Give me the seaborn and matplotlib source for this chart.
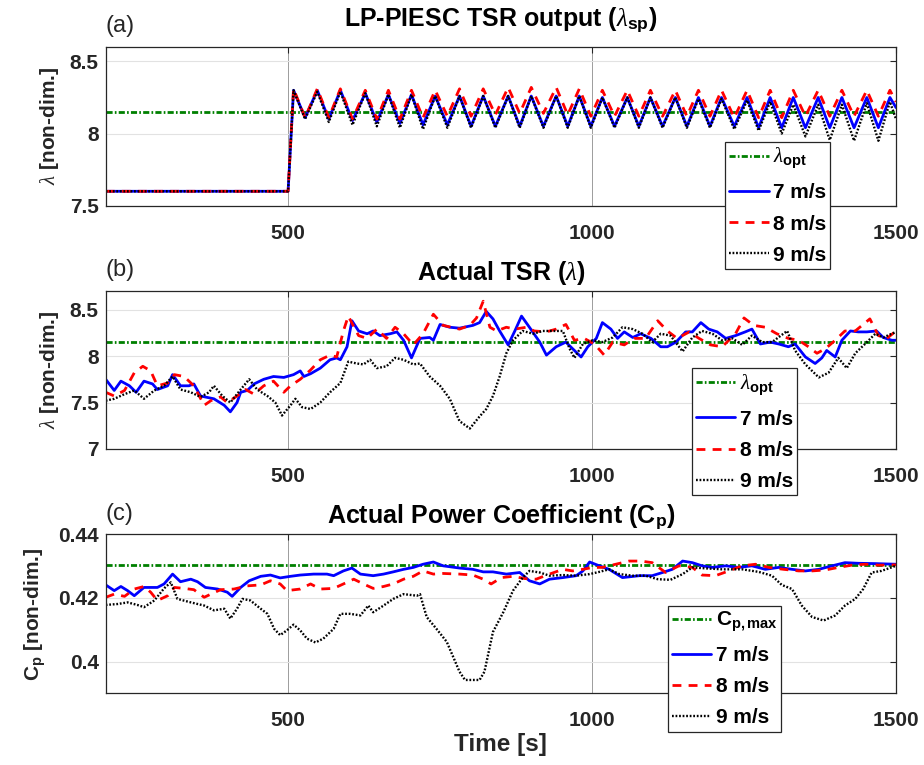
import matplotlib
matplotlib.use("Agg")
import matplotlib.pyplot as plt
import seaborn as sns
from matplotlib.ticker import FuncFormatter

# ---------------- data ----------------
LAMBDA_OPT = 8.15
CP_MAX = 0.4305

# (a) LP-PIESC TSR output: shared time base (start, step, then peaks/troughs)
A_T = [200, 500,
       509, 528, 548, 567, 586, 606, 627, 646, 665, 684,
       703, 722, 742, 762, 782, 801, 821, 841, 862, 881,
       900, 920, 941, 960, 979, 998, 1017, 1037, 1058, 1077,
       1096, 1116, 1137, 1156, 1175, 1194, 1213, 1234, 1255, 1274,
       1293, 1312, 1331, 1351, 1372, 1391, 1411, 1431, 1452, 1471,
       1490, 1500]
A_7 = [7.60, 7.60,
       8.30, 8.11, 8.30, 8.10, 8.30, 8.09, 8.28, 8.08, 8.27, 8.07,
       8.27, 8.06, 8.26, 8.06, 8.26, 8.05, 8.26, 8.05, 8.26, 8.05,
       8.26, 8.05, 8.26, 8.05, 8.26, 8.05, 8.25, 8.05, 8.25, 8.05,
       8.25, 8.05, 8.25, 8.05, 8.25, 8.05, 8.25, 8.05, 8.25, 8.04,
       8.25, 8.04, 8.25, 8.04, 8.25, 8.04, 8.25, 8.04, 8.25, 8.04,
       8.25, 8.18]
A_8 = [7.60, 7.60,
       8.31, 8.11, 8.31, 8.11, 8.31, 8.10, 8.30, 8.10, 8.30, 8.10,
       8.30, 8.11, 8.30, 8.12, 8.31, 8.12, 8.31, 8.13, 8.32, 8.14,
       8.32, 8.14, 8.32, 8.13, 8.31, 8.12, 8.30, 8.12, 8.30, 8.12,
       8.30, 8.12, 8.30, 8.12, 8.30, 8.12, 8.30, 8.11, 8.30, 8.11,
       8.30, 8.11, 8.30, 8.12, 8.30, 8.12, 8.30, 8.12, 8.30, 8.12,
       8.30, 8.22]
A_9 = [7.60, 7.60,
       8.30, 8.10, 8.29, 8.08, 8.29, 8.06, 8.28, 8.05, 8.27, 8.04,
       8.27, 8.03, 8.26, 8.04, 8.26, 8.04, 8.26, 8.04, 8.26, 8.04,
       8.26, 8.04, 8.26, 8.04, 8.26, 8.04, 8.25, 8.04, 8.25, 8.04,
       8.25, 8.04, 8.25, 8.04, 8.24, 8.04, 8.24, 8.03, 8.23, 8.02,
       8.22, 8.00, 8.20, 7.98, 8.20, 7.955, 8.20, 7.95, 8.21, 7.95,
       8.22, 8.10]

# (b) Actual TSR
B7_T = [200, 214, 225, 239, 250, 263, 277, 285, 302, 310,
        323, 337, 345, 356, 378, 395, 405, 416, 422, 433,
        444, 460, 476, 493, 509, 520, 526, 537, 553, 569,
        580, 586, 597, 605, 616, 630, 640, 651, 668, 679,
        690, 703, 717, 733, 739, 750, 766, 782, 804, 815,
        826, 837, 848, 862, 873, 884, 897, 914, 925, 941,
        957, 971, 982, 993, 1007, 1017, 1031, 1042, 1053, 1067,
        1080, 1097, 1113, 1124, 1138, 1154, 1165, 1179, 1192, 1206,
        1220, 1236, 1252, 1263, 1277, 1293, 1307, 1323, 1334, 1351,
        1367, 1378, 1386, 1400, 1411, 1425, 1438, 1452, 1468, 1479,
        1493, 1500]
B7_V = [7.75, 7.63, 7.73, 7.68, 7.61, 7.73, 7.70, 7.64, 7.68, 7.80,
        7.68, 7.68, 7.70, 7.57, 7.54, 7.47, 7.40, 7.50, 7.61, 7.63,
        7.70, 7.75, 7.78, 7.77, 7.80, 7.84, 7.78, 7.81, 7.87, 7.96,
        7.98, 7.96, 8.10, 8.38, 8.27, 8.24, 8.27, 8.22, 8.24, 8.26,
        8.17, 7.98, 8.19, 8.20, 8.17, 8.34, 8.31, 8.30, 8.33, 8.36,
        8.48, 8.40, 8.27, 8.12, 8.27, 8.43, 8.31, 8.15, 8.01, 8.10,
        8.15, 8.06, 7.99, 8.10, 8.19, 8.36, 8.29, 8.19, 8.26, 8.20,
        8.24, 8.19, 8.10, 8.10, 8.15, 8.26, 8.26, 8.36, 8.29, 8.26,
        8.19, 8.22, 8.26, 8.29, 8.13, 8.15, 8.13, 8.10, 8.13, 7.99,
        7.92, 7.98, 8.06, 7.99, 8.17, 8.27, 8.26, 8.26, 8.27, 8.20,
        8.17, 8.17]
B8_T = [200, 214, 231, 247, 261, 274, 285, 302, 313, 329,
        345, 362, 373, 389, 400, 416, 430, 444, 460, 476,
        493, 504, 520, 537, 553, 569, 580, 591, 599, 616,
        630, 646, 662, 676, 690, 706, 722, 739, 755, 782,
        799, 810, 821, 832, 843, 859, 873, 892, 905, 925,
        941, 957, 971, 987, 1004, 1020, 1034, 1053, 1069, 1088,
        1108, 1124, 1140, 1160, 1176, 1195, 1214, 1236, 1250, 1266,
        1285, 1304, 1323, 1340, 1356, 1370, 1384, 1400, 1416, 1433,
        1457, 1471, 1485, 1500]
B8_V = [7.61, 7.57, 7.63, 7.82, 7.89, 7.84, 7.68, 7.71, 7.80, 7.78,
        7.68, 7.47, 7.52, 7.56, 7.50, 7.57, 7.64, 7.59, 7.68, 7.73,
        7.61, 7.68, 7.75, 7.85, 7.96, 8.01, 7.99, 8.27, 8.43, 8.22,
        8.19, 8.29, 8.19, 8.31, 8.24, 8.12, 8.24, 8.45, 8.33, 8.29,
        8.33, 8.41, 8.59, 8.31, 8.27, 8.31, 8.29, 8.31, 8.27, 8.26,
        8.29, 8.34, 8.17, 8.19, 8.13, 8.01, 8.15, 8.12, 8.19, 8.19,
        8.38, 8.27, 8.19, 8.26, 8.19, 8.12, 8.10, 8.24, 8.41, 8.33,
        8.31, 8.24, 8.19, 8.17, 8.10, 8.03, 8.08, 8.17, 8.27, 8.27,
        8.40, 8.22, 8.19, 8.27]
B9_T = [200, 214, 231, 247, 263, 280, 296, 310, 323, 340,
        356, 370, 378, 392, 405, 422, 436, 449, 466, 479,
        490, 504, 512, 523, 537, 553, 569, 586, 599, 613,
        624, 635, 646, 662, 676, 690, 706, 717, 733, 750,
        766, 782, 799, 815, 826, 837, 848, 859, 870, 886,
        903, 919, 935, 952, 963, 971, 985, 1001, 1017, 1034,
        1050, 1067, 1083, 1099, 1113, 1129, 1149, 1165, 1181, 1198,
        1214, 1231, 1247, 1263, 1280, 1296, 1321, 1334, 1351, 1373,
        1389, 1405, 1419, 1433, 1449, 1466, 1479, 1500]
B9_V = [7.52, 7.54, 7.59, 7.63, 7.54, 7.63, 7.68, 7.78, 7.64, 7.61,
        7.56, 7.61, 7.68, 7.57, 7.50, 7.64, 7.75, 7.64, 7.57, 7.50,
        7.36, 7.47, 7.54, 7.45, 7.43, 7.50, 7.61, 7.71, 7.94, 7.92,
        7.91, 7.96, 7.87, 7.89, 7.98, 7.96, 7.91, 7.92, 7.78, 7.68,
        7.54, 7.30, 7.22, 7.35, 7.43, 7.57, 7.78, 8.03, 8.17, 8.27,
        8.24, 8.27, 8.27, 8.27, 8.08, 7.98, 8.13, 8.17, 8.15, 8.20,
        8.31, 8.29, 8.24, 8.15, 8.24, 8.22, 8.05, 8.20, 8.27, 8.24,
        8.17, 8.19, 8.12, 8.22, 8.15, 8.15, 8.27, 8.06, 7.91, 7.77,
        7.82, 7.98, 7.87, 8.03, 8.13, 8.24, 8.20, 8.26]

# (c) Actual power coefficient
C7_T = [200, 214, 225, 236, 247, 263, 285, 296, 310, 323,
        340, 351, 364, 384, 400, 408, 422, 436, 455, 471,
        487, 504, 520, 542, 564, 575, 591, 605, 619, 640,
        657, 673, 690, 706, 722, 739, 755, 782, 804, 821,
        837, 859, 881, 897, 914, 930, 952, 974, 985, 996,
        1012, 1028, 1050, 1078, 1099, 1116, 1132, 1149, 1165, 1181,
        1198, 1220, 1241, 1263, 1285, 1307, 1329, 1351, 1373, 1395,
        1416, 1438, 1466, 1500]
C7_V = [0.4241, 0.4223, 0.4236, 0.4223, 0.4207, 0.4233, 0.4233, 0.4244, 0.4275, 0.4251,
        0.4259, 0.4251, 0.4233, 0.4228, 0.4218, 0.4205, 0.4233, 0.4254, 0.4268, 0.4272,
        0.4263, 0.4268, 0.4272, 0.4275, 0.4275, 0.4270, 0.4285, 0.4294, 0.4275, 0.4270,
        0.4275, 0.4282, 0.4290, 0.4296, 0.4306, 0.4313, 0.4301, 0.4294, 0.4290, 0.4282,
        0.4282, 0.4275, 0.4280, 0.4254, 0.4244, 0.4259, 0.4264, 0.4270, 0.4285, 0.4313,
        0.4301, 0.4290, 0.4264, 0.4270, 0.4270, 0.4280, 0.4290, 0.4316, 0.4311, 0.4301,
        0.4296, 0.4301, 0.4296, 0.4301, 0.4290, 0.4296, 0.4290, 0.4285, 0.4290, 0.4301,
        0.4311, 0.4309, 0.4308, 0.4306]
C8_T = [200, 214, 231, 247, 263, 274, 285, 302, 313, 329,
        345, 362, 373, 389, 411, 433, 455, 471, 487, 498,
        520, 537, 553, 575, 591, 608, 624, 640, 657, 673,
        690, 706, 722, 739, 755, 782, 804, 821, 834, 851,
        870, 889, 908, 930, 952, 968, 985, 1001, 1017, 1039,
        1061, 1080, 1099, 1121, 1143, 1165, 1181, 1203, 1225, 1247,
        1269, 1291, 1315, 1340, 1362, 1384, 1405, 1427, 1449, 1471,
        1500]
C8_V = [0.4202, 0.4212, 0.4205, 0.4228, 0.4236, 0.4218, 0.4192, 0.4207, 0.4233, 0.4230,
        0.4226, 0.4202, 0.4212, 0.4226, 0.4228, 0.4238, 0.4241, 0.4254, 0.4244, 0.4223,
        0.4228, 0.4244, 0.4228, 0.4230, 0.4244, 0.4259, 0.4244, 0.4230, 0.4236, 0.4244,
        0.4259, 0.4268, 0.4285, 0.4275, 0.4277, 0.4275, 0.4272, 0.4259, 0.4244, 0.4264,
        0.4268, 0.4261, 0.4259, 0.4275, 0.4290, 0.4285, 0.4290, 0.4296, 0.4296, 0.4306,
        0.4316, 0.4316, 0.4311, 0.4280, 0.4301, 0.4296, 0.4272, 0.4270, 0.4285, 0.4301,
        0.4306, 0.4296, 0.4290, 0.4285, 0.4285, 0.4288, 0.4296, 0.4303, 0.4306, 0.4303,
        0.4304]
C9_T = [200, 220, 236, 252, 263, 280, 296, 307, 318, 340,
        362, 378, 395, 405, 416, 425, 438, 455, 466, 477,
        487, 498, 509, 520, 531, 545, 558, 575, 586, 602,
        619, 632, 640, 657, 673, 690, 712, 717, 728, 744,
        761, 782, 791, 815, 823, 837, 854, 870, 886, 897,
        914, 930, 952, 974, 996, 1012, 1028, 1045, 1067, 1088,
        1108, 1129, 1149, 1165, 1187, 1214, 1247, 1274, 1296, 1312,
        1329, 1345, 1362, 1381, 1400, 1416, 1433, 1446, 1460, 1476,
        1500]
C9_V = [0.4178, 0.4181, 0.4186, 0.4178, 0.4171, 0.4192, 0.4230, 0.4249, 0.4197, 0.4186,
        0.4176, 0.4161, 0.4166, 0.4135, 0.4166, 0.4197, 0.4192, 0.4166, 0.4150, 0.4103,
        0.4083, 0.4098, 0.4116, 0.4098, 0.4072, 0.4060, 0.4072, 0.4103, 0.4150, 0.4150,
        0.4145, 0.4176, 0.4155, 0.4176, 0.4197, 0.4212, 0.4207, 0.4212, 0.4140, 0.4103,
        0.4062, 0.3968, 0.3942, 0.3942, 0.3968, 0.4093, 0.4155, 0.4223, 0.4264, 0.4285,
        0.4280, 0.4270, 0.4272, 0.4270, 0.4275, 0.4282, 0.4290, 0.4275, 0.4270, 0.4270,
        0.4259, 0.4257, 0.4275, 0.4296, 0.4293, 0.4290, 0.4290, 0.4282, 0.4270, 0.4241,
        0.4228, 0.4176, 0.4140, 0.4129, 0.4145, 0.4176, 0.4197, 0.4228, 0.4280, 0.4285,
        0.4301]

SERIES_LABELS = ["7 m/s", "8 m/s", "9 m/s"]
X_TICKS = [500, 1000, 1500]

# ---------------- style ----------------
sns.set_theme(style="white")
plt.rcParams.update({
    "font.family": ["Liberation Sans", "DejaVu Sans"],
    "font.weight": "bold",
    "mathtext.fontset": "custom",
    "mathtext.rm": "Liberation Sans",
    "mathtext.it": "Liberation Serif:italic:normal",
    "mathtext.bf": "Liberation Sans:bold",
    "axes.edgecolor": "#262626",
    "axes.linewidth": 0.9,
    "text.color": "#262626",
})

DARK = "#262626"
STYLES = {
    "opt": dict(color="#008000", linestyle=(0, (2.2, 0.8, 0.6, 0.8)), linewidth=2.0),
    "7 m/s": dict(color="#0000ff", linestyle="-", linewidth=2.0),
    "8 m/s": dict(color="#ff0000", linestyle=(0, (3.2, 2.6)), linewidth=2.0),
    "9 m/s": dict(color="black", linestyle=(0, (0.75, 0.75)), linewidth=1.7),
}

fig = plt.figure(figsize=(9.24, 7.65), dpi=100)
positions = [
    [0.1144, 0.7311, 0.8553, 0.2075],
    [0.1144, 0.4131, 0.8553, 0.2065],
    [0.1144, 0.0937, 0.8553, 0.2078],
]
axes = [fig.add_axes(p) for p in positions]

panels = [
    dict(ax=axes[0], series=[(A_T, A_7), (A_T, A_8), (A_T, A_9)], ref=LAMBDA_OPT,
         ref_label=r"$\lambda_{\mathbf{opt}}$",
         title=r"LP-PIESC TSR output ($\lambda_{\mathbf{sp}}$)", tag="(a)", tpad=15,
         ylabel=r"$\lambda$ [non-dim.]", ylx=-0.057, ylim=(7.5, 8.6), yticks=[7.5, 8, 8.5],
         leg=(0.7846, 0.8144)),
    dict(ax=axes[1], series=[(B7_T, B7_V), (B8_T, B8_V), (B9_T, B9_V)], ref=LAMBDA_OPT,
         ref_label=r"$\lambda_{\mathbf{opt}}$",
         title=r"Actual TSR ($\lambda$)", tag="(b)", tpad=8,
         ylabel=r"$\lambda$ [non-dim.]", ylx=-0.057, ylim=(7.0, 8.7), yticks=[7, 7.5, 8, 8.5],
         leg=(0.7486, 0.5186)),
    dict(ax=axes[2], series=[(C7_T, C7_V), (C8_T, C8_V), (C9_T, C9_V)], ref=CP_MAX,
         ref_label=r"C$_{\mathbf{p,max}}$",
         title=r"Actual Power Coefficient (C$_{\mathbf{p}}$)", tag="(c)", tpad=8,
         ylabel=r"C$_{\mathbf{p}}$ [non-dim.]", ylx=-0.073, ylim=(0.39, 0.44),
         yticks=[0.4, 0.42, 0.44], leg=(0.7226, 0.2082)),
]

fmt = FuncFormatter(lambda v, p: f"{v:g}")

for pnl in panels:
    ax = pnl["ax"]
    ax.axhline(pnl["ref"], label=pnl["ref_label"], **STYLES["opt"])
    for lab, (t, v) in zip(SERIES_LABELS, pnl["series"]):
        sns.lineplot(x=t, y=v, ax=ax, estimator=None, sort=False,
                     label=lab, legend=False, **STYLES[lab])
    ax.set_xlim(200, 1500)
    ax.set_ylim(*pnl["ylim"])
    ax.set_xticks(X_TICKS)
    ax.set_yticks(pnl["yticks"])
    ax.yaxis.set_major_formatter(fmt)
    ax.set_axisbelow(True)
    ax.grid(axis="y", color="#e2e2e2", linewidth=0.8)
    ax.grid(axis="x", color="#9c9c9c", linewidth=0.7)
    ax.tick_params(direction="in", top=True, right=True, length=4, width=0.8,
                   colors=DARK, labelsize=15)
    ax.tick_params(axis="x", pad=13)
    ax.tick_params(axis="y", pad=5)
    for lbl in ax.get_xticklabels() + ax.get_yticklabels():
        lbl.set_fontweight("bold")
    for s in ax.spines.values():
        s.set_visible(True)
        s.set_color(DARK)
    ax.set_title(pnl["title"], fontsize=18, fontweight="bold", color="black", pad=pnl["tpad"])
    ax.annotate(pnl["tag"], xy=(0, 1), xycoords="axes fraction", xytext=(0, 15),
                textcoords="offset points", ha="left", va="center",
                fontsize=17, fontweight="normal", color=DARK)
    ax.set_ylabel(pnl["ylabel"], fontsize=15, fontweight="bold", color=DARK)
    ax.yaxis.set_label_coords(pnl["ylx"], 0.5)
    ax.set_xlabel("")
    leg = ax.legend(loc="upper left", bbox_to_anchor=pnl["leg"],
                    bbox_transform=fig.transFigure, fontsize=15,
                    handlelength=1.9, handletextpad=0.2, borderpad=0.2,
                    labelspacing=0.58, borderaxespad=0, frameon=True,
                    fancybox=False, framealpha=1, edgecolor=DARK)
    leg.get_frame().set_linewidth(0.9)
    leg.set_zorder(10)
    for txt in leg.get_texts():
        txt.set_fontweight("bold")
        txt.set_color("black")

axes[2].set_xlabel("Time [s]", fontsize=17.5, fontweight="bold", color=DARK, labelpad=2)

fig.savefig("out.png", dpi=100)
